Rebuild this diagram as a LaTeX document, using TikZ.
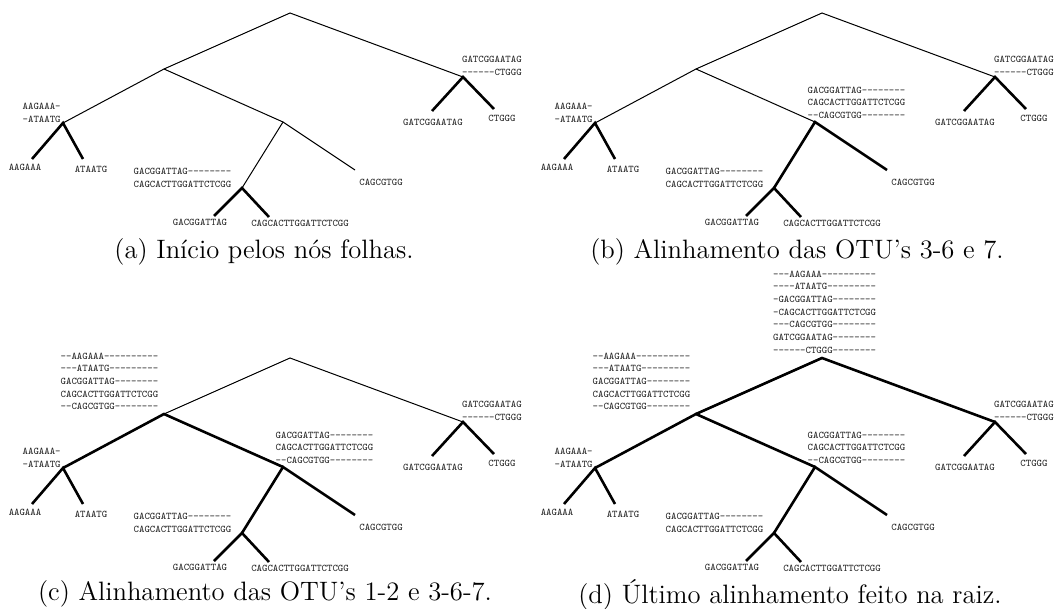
\documentclass[tikz,border=0pt]{standalone}
\usepackage{tikz}

\begin{document}
\begin{tikzpicture}[x=0.5pt, y=-0.5pt,
    branch/.style={line width=0.5pt},
    aligned/.style={line width=1.3pt},
    every node/.style={font=\fontsize{5.1}{6.35}\selectfont\ttfamily, text=black!85, inner sep=0pt},
    block/.style={anchor=west, align=left},
    caption/.style={font=\fontsize{13.3}{15}\selectfont\rmfamily\mdseries, text=black}]
  \useasboundingbox (0,0) rectangle (1060,609);
  % (a) leaves only
  \begin{scope}
    \coordinate (a-root) at (290,13);
    \coordinate (a-n1267) at (164,69);
    \coordinate (a-n45) at (463,77);
    \coordinate (a-n12) at (63,123);
    \coordinate (a-n367) at (283,122);
    \coordinate (a-n36) at (242,188);
    \coordinate (a-o1) at (32,159);
    \coordinate (a-o2) at (83,159);
    \coordinate (a-o3) at (214,216);
    \coordinate (a-o6) at (269,217);
    \coordinate (a-o7) at (355,170);
    \coordinate (a-o4) at (432,111);
    \coordinate (a-o5) at (494,109);
    \draw[branch] (a-n1267) -- (a-root) -- (a-n45);
    \draw[branch] (a-n12) -- (a-n1267) -- (a-n367);
    \draw[branch] (a-n36) -- (a-n367) -- (a-o7);
    \draw[aligned] (a-o1) -- (a-n12) -- (a-o2);
    \draw[aligned] (a-o3) -- (a-n36) -- (a-o6);
    \draw[aligned] (a-o4) -- (a-n45) -- (a-o5);
    \node (a-t1) at (25,167) {AAGAAA};
    \node (a-t2) at (91,169) {ATAATG};
    \node (a-t3) at (200,222) {GACGGATTAG};
    \node (a-t6) at (300,223) {CAGCACTTGGATTCTCGG};
    \node (a-t7) at (381,182) {CAGCGTGG};
    \node (a-t4) at (433,122) {GATCGGAATAG};
    \node (a-t5) at (502,118) {CTGGG};
    \node[block] (a-al12) at (22.3,113) {AAGAAA-\\-ATAATG};
    \node[block] (a-al36) at (133.3,178) {GACGGATTAG--------\\CAGCACTTGGATTCTCGG};
    \node[block] (a-al45) at (461.7,66) {GATCGGAATAG\\------CTGGG};
  \end{scope}
  % (b) OTUs 3-6 and 7
  \begin{scope}[shift={(532,0)}]
    \coordinate (b-root) at (290,13);
    \coordinate (b-n1267) at (164,69);
    \coordinate (b-n45) at (463,77);
    \coordinate (b-n12) at (63,123);
    \coordinate (b-n367) at (283,122);
    \coordinate (b-n36) at (242,188);
    \coordinate (b-o1) at (32,159);
    \coordinate (b-o2) at (83,159);
    \coordinate (b-o3) at (214,216);
    \coordinate (b-o6) at (269,217);
    \coordinate (b-o7) at (355,170);
    \coordinate (b-o4) at (432,111);
    \coordinate (b-o5) at (494,109);
    \draw[branch] (b-n1267) -- (b-root) -- (b-n45);
    \draw[branch] (b-n12) -- (b-n1267) -- (b-n367);
    \draw[aligned] (b-n36) -- (b-n367) -- (b-o7);
    \draw[aligned] (b-o1) -- (b-n12) -- (b-o2);
    \draw[aligned] (b-o3) -- (b-n36) -- (b-o6);
    \draw[aligned] (b-o4) -- (b-n45) -- (b-o5);
    \node (b-t1) at (25,167) {AAGAAA};
    \node (b-t2) at (91,169) {ATAATG};
    \node (b-t3) at (200,222) {GACGGATTAG};
    \node (b-t6) at (300,223) {CAGCACTTGGATTCTCGG};
    \node (b-t7) at (381,182) {CAGCGTGG};
    \node (b-t4) at (433,122) {GATCGGAATAG};
    \node (b-t5) at (502,118) {CTGGG};
    \node[block] (b-al12) at (22.3,113) {AAGAAA-\\-ATAATG};
    \node[block] (b-al36) at (133.3,178) {GACGGATTAG--------\\CAGCACTTGGATTCTCGG};
    \node[block] (b-al45) at (461.7,66) {GATCGGAATAG\\------CTGGG};
    \node[block] (b-al367) at (275.3,102.8) {GACGGATTAG--------\\CAGCACTTGGATTCTCGG\\--CAGCGTGG--------};
  \end{scope}
  % (c) OTUs 1-2 and 3-6-7
  \begin{scope}[shift={(0,345)}]
    \coordinate (c-root) at (290,13);
    \coordinate (c-n1267) at (164,69);
    \coordinate (c-n45) at (463,77);
    \coordinate (c-n12) at (63,123);
    \coordinate (c-n367) at (283,122);
    \coordinate (c-n36) at (242,188);
    \coordinate (c-o1) at (32,159);
    \coordinate (c-o2) at (83,159);
    \coordinate (c-o3) at (214,216);
    \coordinate (c-o6) at (269,217);
    \coordinate (c-o7) at (355,170);
    \coordinate (c-o4) at (432,111);
    \coordinate (c-o5) at (494,109);
    \draw[branch] (c-n1267) -- (c-root) -- (c-n45);
    \draw[aligned] (c-n12) -- (c-n1267) -- (c-n367);
    \draw[aligned] (c-n36) -- (c-n367) -- (c-o7);
    \draw[aligned] (c-o1) -- (c-n12) -- (c-o2);
    \draw[aligned] (c-o3) -- (c-n36) -- (c-o6);
    \draw[aligned] (c-o4) -- (c-n45) -- (c-o5);
    \node (c-t1) at (25,167) {AAGAAA};
    \node (c-t2) at (91,169) {ATAATG};
    \node (c-t3) at (200,222) {GACGGATTAG};
    \node (c-t6) at (300,223) {CAGCACTTGGATTCTCGG};
    \node (c-t7) at (381,182) {CAGCGTGG};
    \node (c-t4) at (433,122) {GATCGGAATAG};
    \node (c-t5) at (502,118) {CTGGG};
    \node[block] (c-al12) at (22.3,113) {AAGAAA-\\-ATAATG};
    \node[block] (c-al36) at (133.3,178) {GACGGATTAG--------\\CAGCACTTGGATTCTCGG};
    \node[block] (c-al45) at (461.7,66) {GATCGGAATAG\\------CTGGG};
    \node[block] (c-al367) at (275.3,102.8) {GACGGATTAG--------\\CAGCACTTGGATTCTCGG\\--CAGCGTGG--------};
    \node[block] (c-al1267) at (60.3,36.3) {--AAGAAA----------\\---ATAATG---------\\GACGGATTAG--------\\CAGCACTTGGATTCTCGG\\--CAGCGTGG--------};
  \end{scope}
  % (d) root
  \begin{scope}[shift={(532,345)}]
    \coordinate (d-root) at (290,13);
    \coordinate (d-n1267) at (164,69);
    \coordinate (d-n45) at (463,77);
    \coordinate (d-n12) at (63,123);
    \coordinate (d-n367) at (283,122);
    \coordinate (d-n36) at (242,188);
    \coordinate (d-o1) at (32,159);
    \coordinate (d-o2) at (83,159);
    \coordinate (d-o3) at (214,216);
    \coordinate (d-o6) at (269,217);
    \coordinate (d-o7) at (355,170);
    \coordinate (d-o4) at (432,111);
    \coordinate (d-o5) at (494,109);
    \draw[aligned] (d-n1267) -- (d-root) -- (d-n45);
    \draw[aligned] (d-n12) -- (d-n1267) -- (d-n367);
    \draw[aligned] (d-n36) -- (d-n367) -- (d-o7);
    \draw[aligned] (d-o1) -- (d-n12) -- (d-o2);
    \draw[aligned] (d-o3) -- (d-n36) -- (d-o6);
    \draw[aligned] (d-o4) -- (d-n45) -- (d-o5);
    \node (d-t1) at (25,167) {AAGAAA};
    \node (d-t2) at (91,169) {ATAATG};
    \node (d-t3) at (200,222) {GACGGATTAG};
    \node (d-t6) at (300,223) {CAGCACTTGGATTCTCGG};
    \node (d-t7) at (381,182) {CAGCGTGG};
    \node (d-t4) at (433,122) {GATCGGAATAG};
    \node (d-t5) at (502,118) {CTGGG};
    \node[block] (d-al12) at (22.3,113) {AAGAAA-\\-ATAATG};
    \node[block] (d-al36) at (133.3,178) {GACGGATTAG--------\\CAGCACTTGGATTCTCGG};
    \node[block] (d-al45) at (461.7,66) {GATCGGAATAG\\------CTGGG};
    \node[block] (d-al367) at (275.3,102.8) {GACGGATTAG--------\\CAGCACTTGGATTCTCGG\\--CAGCGTGG--------};
    \node[block] (d-al1267) at (60.3,36.3) {--AAGAAA----------\\---ATAATG---------\\GACGGATTAG--------\\CAGCACTTGGATTCTCGG\\--CAGCGTGG--------};
    \node[block] (d-all) at (240.7,-33) {---AAGAAA----------\\----ATAATG---------\\-GACGGATTAG--------\\-CAGCACTTGGATTCTCGG\\---CAGCGTGG--------\\GATCGGAATAG--------\\------CTGGG--------};
  \end{scope}
  % captions
  \node[caption] (a-cap) at (264,252) {(a) Início pelos nós folhas.};
  \node[caption] (b-cap) at (797,252) {(b) Alinhamento das OTU's 3-6 e 7.};
  \node[caption] (c-cap) at (265,594) {(c) Alinhamento das OTU's 1-2 e 3-6-7.};
  \node[caption] (d-cap) at (790,595) {(d) Último alinhamento feito na raiz.};
\end{tikzpicture}
\end{document}
